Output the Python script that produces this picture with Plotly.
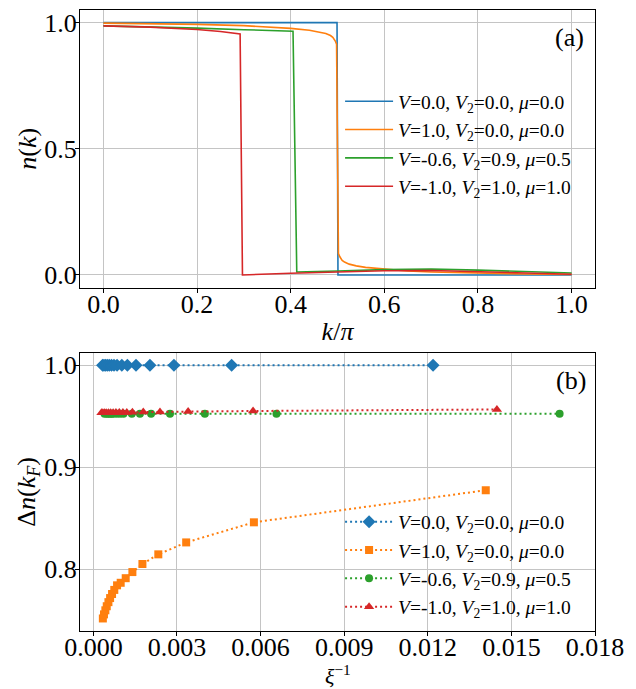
import plotly.graph_objects as go

# ---------------- data: panel (a) n(k) ----------------
k_blue = [0.0, 0.499, 0.501, 1.0]
n_blue = [1.0, 1.0, 0.0, 0.0]

k_orange = [0.0, 0.1, 0.2, 0.3, 0.35, 0.4, 0.44, 0.46, 0.475, 0.485, 0.49, 0.495, 0.498,
            0.502, 0.505, 0.51, 0.515, 0.525, 0.54, 0.56, 0.6, 0.65, 0.7, 0.8, 0.9, 1.0]
n_orange = [0.998, 0.996, 0.993, 0.988, 0.984, 0.977, 0.970, 0.964, 0.957, 0.949, 0.942, 0.928, 0.915,
            0.085, 0.072, 0.058, 0.051, 0.043, 0.036, 0.030, 0.023, 0.016, 0.012, 0.007, 0.004, 0.002]

k_green = [0.0, 0.1, 0.2, 0.3, 0.37, 0.405, 0.413, 0.45, 0.5, 0.6, 0.7, 0.8, 0.9, 1.0]
n_green = [0.987, 0.984, 0.978, 0.972, 0.968, 0.966, 0.012, 0.013, 0.016, 0.021, 0.023, 0.019, 0.013, 0.008]

k_red = [0.0, 0.1, 0.2, 0.25, 0.292, 0.297, 0.4, 0.5, 0.6, 0.7, 0.8, 0.9, 1.0]
n_red = [0.987, 0.982, 0.973, 0.965, 0.955, 0.0, 0.007, 0.012, 0.017, 0.018, 0.013, 0.007, 0.003]

# ---------------- data: panel (b) Delta n(k_F) vs 1/xi ----------------
xi_blue = [0.00033, 0.00038, 0.00044, 0.00050, 0.00057, 0.00065, 0.00074, 0.00085,
           0.00102, 0.00122, 0.00153, 0.00203, 0.00289, 0.00496, 0.01219]
dn_blue = [1.0] * len(xi_blue)

xi_orange = [0.00034, 0.00038, 0.00043, 0.00048, 0.00054, 0.00060, 0.00067, 0.00075, 0.00085,
             0.00098, 0.00116, 0.00140, 0.00176, 0.00233, 0.00333, 0.00576, 0.01408]
dn_orange = [0.7515, 0.7555, 0.7595, 0.7635, 0.7675, 0.7715, 0.7755, 0.7795, 0.7840,
             0.7865, 0.7910, 0.7970, 0.8049, 0.8144, 0.8261, 0.8458, 0.8773]

xi_green = [0.00040, 0.00048, 0.00054, 0.00060, 0.00066, 0.00072, 0.00084, 0.00096, 0.00108,
            0.00138, 0.00167, 0.00207, 0.00275, 0.00400, 0.00657, 0.01673]
dn_green = [0.9522, 0.9522, 0.9522, 0.9522, 0.9522, 0.9522, 0.9522, 0.9522, 0.9522,
            0.9522, 0.9522, 0.9522, 0.9522, 0.9522, 0.9522, 0.9522]

xi_red = [0.00029, 0.00034, 0.00040, 0.00046, 0.00054, 0.00062, 0.00071, 0.00081, 0.00093,
          0.00106, 0.00120, 0.00140, 0.00179, 0.00239, 0.00340, 0.00573, 0.01448]
dn_red = [0.9532, 0.9532, 0.9533, 0.9533, 0.9533, 0.9534, 0.9534, 0.9535, 0.9535,
          0.9536, 0.9536, 0.9537, 0.9539, 0.9541, 0.9544, 0.9550, 0.9565]

labels = [
    "<i>V</i>=0.0, <i>V</i><sub>2</sub>=0.0, <i>μ</i>=0.0",
    "<i>V</i>=1.0, <i>V</i><sub>2</sub>=0.0, <i>μ</i>=0.0",
    "<i>V</i>=-0.6, <i>V</i><sub>2</sub>=0.9, <i>μ</i>=0.5",
    "<i>V</i>=-1.0, <i>V</i><sub>2</sub>=1.0, <i>μ</i>=1.0",
]
colors = ["#1f77b4", "#ff7f0e", "#2ca02c", "#d62728"]
symbols = ["diamond", "square", "circle", "triangle-up"]

ka_vals = [0.0, 0.2, 0.4, 0.6, 0.8, 1.0]
ka_text = ["0.0", "0.2", "0.4", "0.6", "0.8", "1.0"]
na_vals = [0.0, 0.5, 1.0]
na_text = ["0.0", "0.5", "1.0"]
xb_vals = [0.0, 0.003, 0.006, 0.009, 0.012, 0.015, 0.018]
xb_text = ["0.000", "0.003", "0.006", "0.009", "0.012", "0.015", "0.018"]
yb_vals = [0.8, 0.9, 1.0]
yb_text = ["0.8", "0.9", "1.0"]

FONT = "Liberation Serif"

fig = go.Figure()

series_a = [(k_blue, n_blue), (k_orange, n_orange), (k_green, n_green), (k_red, n_red)]
for i, (kx, ny) in enumerate(series_a):
    fig.add_trace(go.Scatter(x=kx, y=ny, mode="lines", name=labels[i],
                             line=dict(color=colors[i], width=1.6),
                             xaxis="x", yaxis="y", legend="legend"))

series_b = [(xi_blue, dn_blue), (xi_orange, dn_orange), (xi_green, dn_green), (xi_red, dn_red)]
msize = [10, 8, 8, 9]
for i, (xx, yy) in enumerate(series_b):
    fig.add_trace(go.Scatter(x=xx, y=yy, mode="lines+markers", name=labels[i],
                             line=dict(color=colors[i], width=2, dash="2px,3px"),
                             marker=dict(symbol=symbols[i], size=msize[i], color=colors[i]),
                             xaxis="x2", yaxis="y2", legend="legend2"))

axis_common = dict(showline=True, linecolor="black", linewidth=1.3, mirror=True,
                   showgrid=True, gridcolor="#c4c4c4", gridwidth=1,
                   ticks="outside", ticklen=4, tickcolor="black", tickwidth=1,
                   zeroline=False, automargin=False,
                   tickfont=dict(family=FONT, size=26, color="black"))

fig.update_layout(
    width=628, height=681,
    margin=dict(l=72, r=41, t=2, b=58),
    paper_bgcolor="white", plot_bgcolor="white",
    font=dict(family=FONT, color="black", size=20),
    xaxis=dict(domain=[0, 1], range=[-0.05, 1.05], tickvals=ka_vals, ticktext=ka_text,
               anchor="y", ticklabelstandoff=-11,
               title=dict(text="<i>k</i>/<i>π</i>", font=dict(family=FONT, size=26), standoff=3),
               **axis_common),
    yaxis=dict(domain=[0.553, 1.0], range=[-0.05, 1.05], tickvals=na_vals, ticktext=na_text,
               anchor="x", ticklabelstandoff=-7,
               title=dict(text="<i>n</i>(<i>k</i>)", font=dict(family=FONT, size=26), standoff=0),
               **axis_common),
    xaxis2=dict(domain=[0, 1], range=[-0.00048, 0.018], tickvals=xb_vals, ticktext=xb_text,
                anchor="y2", ticklabelstandoff=-11,
                **axis_common),
    yaxis2=dict(domain=[0, 0.448], range=[0.7392, 1.0121], tickvals=yb_vals, ticktext=yb_text,
                anchor="x2", ticklabelstandoff=-7,
                title=dict(text="Δ<i>n</i>(<i>k</i><sub><i>F</i></sub>)", font=dict(family=FONT, size=26), standoff=0),
                **axis_common),
    legend=dict(x=0.505, y=0.884, xanchor="left", yanchor="top", bgcolor="rgba(0,0,0,0)",
                font=dict(family=FONT, size=19.5, color="black"), itemwidth=48),
    legend2=dict(x=0.505, y=0.207, xanchor="left", yanchor="top", bgcolor="rgba(0,0,0,0)",
                 font=dict(family=FONT, size=19.5, color="black"), itemwidth=48),
    showlegend=True,
    annotations=[
        dict(text="(a)", x=0.951, y=0.9565, xref="paper", yref="paper", showarrow=False,
             xanchor="center", yanchor="middle",
             font=dict(family=FONT, size=26, color="black")),
        dict(text="(b)", x=0.953, y=0.404, xref="paper", yref="paper", showarrow=False,
             xanchor="center", yanchor="middle",
             font=dict(family=FONT, size=26, color="black")),
        # x-axis title of panel (b)
        dict(text="<i>ξ</i><sup>−1</sup>", x=0.5, y=-0.071, xref="paper", yref="paper",
             showarrow=False, xanchor="center", yanchor="middle",
             font=dict(family=FONT, size=22, color="black")),
    ],
)

fig.write_html("out.html")
